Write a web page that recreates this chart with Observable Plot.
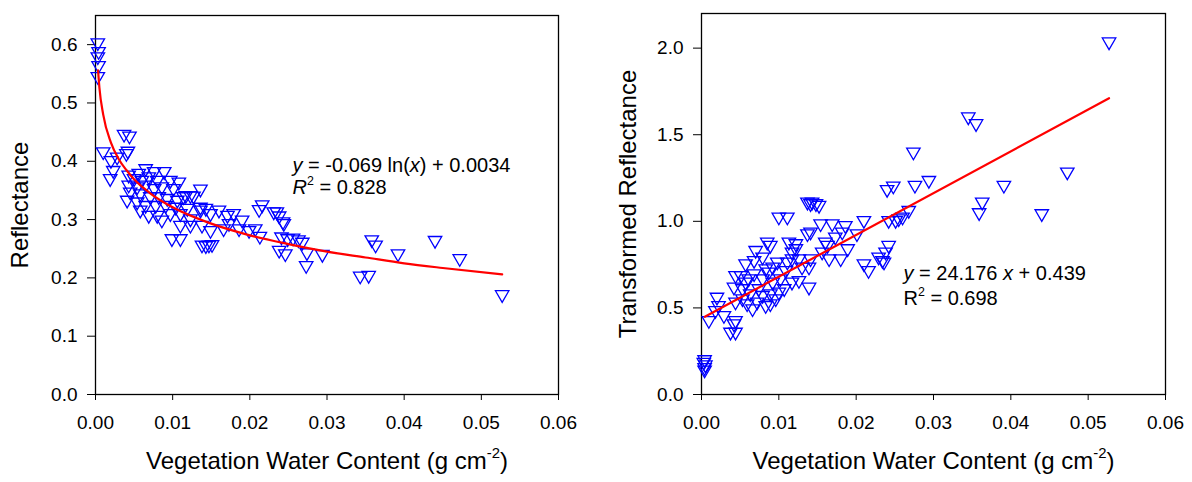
<!DOCTYPE html>
<html><head><meta charset="utf-8">
<script src="https://cdn.jsdelivr.net/npm/d3@7"></script>
<script src="https://cdn.jsdelivr.net/npm/@observablehq/plot@0.6"></script>
<style>
html,body{margin:0;padding:0;background:#fff;}
#wrap{display:flex;width:1192px;height:482px;overflow:hidden;}
#wrap svg{display:block;}
</style></head><body><div id="wrap"></div>
<script>
// ---------- data ----------
const leftX = [0.0003,0.0004,0.0003,0.0004,0.0003,
  0.0010,0.0037,0.0044,0.0042,0.0040,0.0020,0.0028,0.0023,0.0019,
  0.0065,0.0076,0.0089,0.0056,0.0043,
  0.0050,0.0060,0.0069,0.0080,0.0097,0.0108,
  0.0043,0.0054,0.0065,0.0076,0.0086,0.0101,0.0117,0.0123,0.0136,
  0.0045,0.0058,0.0071,0.0082,0.0093,0.0106,0.0114,0.0127,
  0.0041,0.0054,0.0065,0.0078,0.0091,0.0104,0.0119,0.0136,0.0143,
  0.0058,0.0069,0.0080,0.0086,0.0097,0.0110,0.0123,0.0136,0.0149,0.0160,0.0171,0.0179,0.0190,
  0.0110,0.0123,0.0138,0.0149,0.0166,0.0173,0.0186,0.0199,0.0207,
  0.0099,0.0110,0.0138,0.0143,0.0147,0.0151,
  0.0216,0.0212,0.0231,0.0235,0.0238,0.0243,0.0244,0.0213,
  0.0241,0.0249,0.0256,0.0263,0.0268,
  0.0238,0.0246,0.0274,0.0273,0.0294,
  0.0358,0.0363,0.0343,0.0354,0.0392,0.0440,0.0472,0.0527];
const leftY = [0.600,0.585,0.576,0.561,0.542,
  0.413,0.443,0.440,0.414,0.410,0.398,0.404,0.381,0.367,
  0.384,0.379,0.379,0.376,0.373,
  0.367,0.364,0.370,0.364,0.364,0.361,
  0.356,0.353,0.356,0.350,0.353,0.350,0.338,0.338,0.349,
  0.344,0.341,0.336,0.336,0.333,0.330,0.336,0.337,
  0.330,0.327,0.321,0.321,0.321,0.318,0.316,0.318,0.316,
  0.313,0.304,0.304,0.296,0.307,0.307,0.298,0.313,0.307,0.313,0.304,0.307,0.296,
  0.287,0.287,0.287,0.278,0.281,0.290,0.281,0.278,0.281,
  0.264,0.264,0.253,0.252,0.253,0.254,
  0.322,0.314,0.310,0.310,0.303,0.293,0.290,0.268,
  0.267,0.264,0.265,0.262,0.258,
  0.244,0.238,0.240,0.218,0.237,
  0.262,0.253,0.200,0.201,0.238,0.261,0.230,0.168];

const rightX = [0.0004,0.0003,0.0005,0.0004,0.0004,
  0.00095,0.0020,0.0018,0.0022,0.0029,0.00375,0.0044,0.0042,0.0044,
  0.0044,0.0051,0.0042,0.0053,0.0061,0.0057,
  0.0044,0.0053,0.0059,0.0066,0.0063,0.0074,0.0079,0.0072,0.0083,0.0089,0.0096,0.0089,0.0100,0.0107,
  0.0057,0.0068,0.0070,0.0079,0.0085,0.0089,0.0083,0.0092,0.0098,0.0087,0.0068,0.0079,0.0092,0.0102,0.0109,0.0111,0.0117,0.0113,0.0122,0.0122,0.0117,0.0126,0.0130,0.0139,0.0117,0.0126,0.0139,0.0141,0.0141,0.0137,0.0154,0.0169,0.0186,0.0182,0.0173,0.0160,0.0163,0.0156,0.0165,0.0180,0.0189,0.0201,0.0210,0.0210,0.0216,
  0.0137,0.0143,0.0148,0.0152,0.0141,
  0.0100,0.0111,
  0.0274,0.0240,0.0248,0.0276,0.0294,0.0391,0.0363,0.0359,0.0242,0.0251,0.0255,0.0260,0.0268,
  0.0229,0.0234,0.0236,0.0242,0.0238,
  0.0345,0.0355,0.0473,0.0440,0.0527];
const rightY = [0.190,0.175,0.160,0.145,0.130,
  0.416,0.551,0.474,0.503,0.445,0.349,0.349,0.397,0.416,
  0.676,0.676,0.609,0.600,0.657,0.638,
  0.523,0.542,0.513,0.484,0.571,0.600,0.561,0.523,0.503,0.513,0.542,0.571,0.580,0.600,
  0.744,0.763,0.821,0.783,0.869,0.850,0.715,0.725,0.754,0.696,0.686,0.657,0.638,0.657,0.705,0.754,0.812,0.869,0.860,0.831,0.773,0.773,0.725,0.725,0.638,0.647,0.609,0.773,0.927,0.917,0.975,0.975,0.965,0.927,0.898,0.869,0.850,0.812,0.773,0.773,0.831,0.917,0.994,0.744,0.705,
  1.100,1.100,1.091,1.081,1.091,
  1.014,1.014,
  1.389,1.173,1.193,1.197,1.225,1.197,1.100,1.039,0.994,0.994,1.004,1.014,1.052,
  0.783,0.763,0.754,0.850,0.812,
  1.592,1.553,1.274,1.033,2.025];

// fitted curves
const leftFitX = [0.00033,0.0005,0.001,0.002,0.003,0.004,0.005,0.007,0.010,0.015,0.020,0.025,0.030,0.035,0.040,0.045,0.0527];
const leftFitY = [0.556,0.527,0.480,0.432,0.404,0.385,0.369,0.346,0.321,0.293,0.273,0.258,0.245,0.235,0.225,0.217,0.206];
const rightFitX = [0.00043,0.0527];
const rightFitY = [0.449,1.711];

const xTicks = [0,0.01,0.02,0.03,0.04,0.05,0.06];
const yTicksLeft = [0,0.1,0.2,0.3,0.4,0.5,0.6];
const yTicksRight = [0,0.5,1.0,1.5,2.0];

const xTitle = "Vegetation Water Content (g cm-2)";
const leftYTitle = "Reflectance";
const rightYTitle = "Transformed Reflectance";
const leftEq = ["y = -0.069 ln(x) + 0.0034", "R2 = 0.828"];
const rightEq = ["y = 24.176 x + 0.439", "R2 = 0.698"];

// rich-text spans for labels that need italics / superscripts
const rich = {
  "y = -0.069 ln(x) + 0.0034": [{t:"y",i:1},{t:" = -0.069 ln("},{t:"x",i:1},{t:") + 0.0034"}],
  "R2 = 0.828": [{t:"R",i:1},{t:"2",sup:1},{t:" = 0.828"}],
  "y = 24.176 x + 0.439": [{t:"y",i:1},{t:" = 24.176 "},{t:"x",i:1},{t:" + 0.439"}],
  "R2 = 0.698": [{t:"R"},{t:"2",sup:1},{t:" = 0.698"}],
  "Vegetation Water Content (g cm-2)": [{t:"Vegetation Water Content (g cm"},{t:"-2",sup:1},{t:")"}]
};

// ---------- rendering ----------
const FONT = "Arial, 'Liberation Sans', Helvetica, sans-serif";
const downTriangle = {
  draw(context, size) {
    const s = Math.sqrt(size / (3 * Math.sqrt(3)));
    const hw = Math.sqrt(3) * s, hh = 1.5 * s;
    context.moveTo(-hw, -hh);
    context.lineTo(hw, -hh);
    context.lineTo(0, hh);
    context.closePath();
  }
};

function panel(o) {
  const pts = o.xs.map((x, i) => ({x, y: o.ys[i]}));
  const fit = o.fx.map((x, i) => ({x, y: o.fy[i]}));
  return Plot.plot({
    width: 596, height: 482,
    marginLeft: o.ml, marginRight: o.mr, marginTop: o.mt, marginBottom: 88,
    style: {fontFamily: FONT, fontSize: "19px", color: "black", background: "white", overflow: "visible"},
    x: {domain: [0, 0.06], ticks: xTicks, tickFormat: d3.format(".2f"), label: null, tickSize: 6, tickPadding: 15},
    y: {domain: o.ydom, ticks: o.yt, tickFormat: d3.format(".1f"), label: null, tickSize: 8, tickPadding: 10},
    marks: [
      Plot.frame({stroke: "black", strokeWidth: 1.3}),
      Plot.dot(pts, {x: "x", y: "y", symbol: downTriangle, r: 5, stroke: "#0000ff", fill: "none", strokeWidth: 1.3}),
      Plot.line(fit, {x: "x", y: "y", stroke: "#ff0000", strokeWidth: 2.2, curve: "monotone-x"}),
      Plot.text([o.eq[0]], {text: d => d, frameAnchor: "top-left", textAnchor: "start", dx: o.eqdx, dy: o.eqdy1, fontSize: 20}),
      Plot.text([o.eq[1]], {text: d => d, frameAnchor: "top-left", textAnchor: "start", dx: o.eqdx, dy: o.eqdy2, fontSize: 20}),
      Plot.text([xTitle], {text: d => d, frameAnchor: "bottom", textAnchor: "middle", dy: 74, fontSize: 24}),
      Plot.text([o.ytitle], {text: d => d, frameAnchor: "left", textAnchor: "middle", rotate: -90, dx: o.ytdx, fontSize: 24})
    ]
  });
}

function enrich(svg) {
  const ns = "http://www.w3.org/2000/svg";
  svg.querySelectorAll("text").forEach(el => {
    const spec = rich[el.textContent];
    if (!spec) return;
    const fs = parseFloat(getComputedStyle(el).fontSize) || 20;
    const shift = 0.42 * fs;
    el.textContent = "";
    let up = false;
    for (const p of spec) {
      const ts = document.createElementNS(ns, "tspan");
      ts.textContent = p.t;
      if (p.i) ts.setAttribute("font-style", "italic");
      if (p.sup) {
        ts.setAttribute("font-size", (0.62 * fs) + "px");
        ts.setAttribute("dy", (-shift) + "px");
        up = true;
      } else if (up) {
        ts.setAttribute("dy", shift + "px");
        up = false;
      }
      el.appendChild(ts);
    }
  });
}

const wrap = document.getElementById("wrap");
const left = panel({xs: leftX, ys: leftY, fx: leftFitX, fy: leftFitY, ydom: [0, 0.65], yt: yTicksLeft,
  ml: 95, mr: 38, mt: 15, eq: leftEq, eqdx: 197, eqdy1: 142, eqdy2: 164, ytitle: leftYTitle, ytdx: -75});
const right = panel({xs: rightX, ys: rightY, fx: rightFitX, fy: rightFitY, ydom: [0, 2.2], yt: yTicksRight,
  ml: 105, mr: 27, mt: 13, eq: rightEq, eqdx: 202, eqdy1: 252, eqdy2: 277, ytitle: rightYTitle, ytdx: -73});
wrap.appendChild(left);
wrap.appendChild(right);
enrich(left);
enrich(right);
</script>
</body></html>
